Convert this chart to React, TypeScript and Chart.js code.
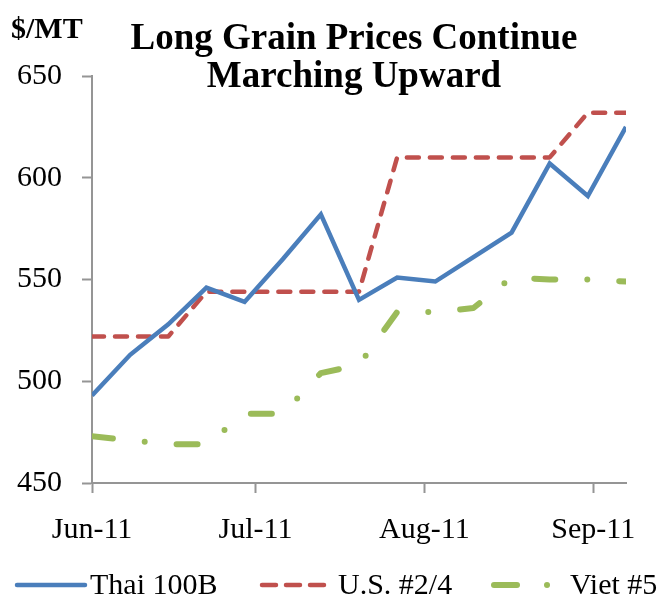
import React, { useEffect, useRef } from 'react';
import { Chart, registerables } from 'chart.js';

Chart.register(...registerables);

// ---- data ----
const weekDates = [
  '2011-06-01', '2011-06-08', '2011-06-15', '2011-06-22', '2011-06-29',
  '2011-07-06', '2011-07-13', '2011-07-20', '2011-07-27', '2011-08-03',
  '2011-08-10', '2011-08-17', '2011-08-24', '2011-08-31', '2011-09-07',
];
const thai100B = [493, 513, 528, 546, 539, 560, 582, 540, 551, 549, 561, 573, 607, 591, 625];
const us24 = [522, 522, 522, 544, 544, 544, 544, 544, 610, 610, 610, 610, 610, 632, 632];
const viet5 = [473, 471, 469, 469, 484, 484, 504, 508, 534, 534, 536, 551, 550, 550, 549];
const monthTickDates = ['2011-06-01', '2011-07-01', '2011-08-01', '2011-09-01'];
const monthTickLabels = ['Jun-11', 'Jul-11', 'Aug-11', 'Sep-11'];
const yTicks = [450, 500, 550, 600, 650];
const seriesNames = ['Thai 100B', 'U.S. #2/4', 'Viet #5'];
const titleLines = ['Long Grain Prices Continue', 'Marching Upward'];
const unitLabel = '$/MT';
const axisEndDate = '2011-09-07';

const DAY = 86400000;
const dayOf = (s: string) => (Date.parse(s) - Date.parse(weekDates[0])) / DAY;

const FONT = '"Liberation Serif", "Times New Roman", serif';
const C_THAI = '#4A7EBB';
const C_US = '#C0504D';
const C_VIET = '#9BBB59';
const AXIS = '#959595';

const overlayPlugin = {
  id: 'overlay',
  afterDraw(chart: any) {
    const ctx = chart.ctx;
    ctx.save();
    // unit label
    ctx.fillStyle = '#000';
    ctx.textAlign = 'left';
    ctx.textBaseline = 'alphabetic';
    ctx.font = `bold 30px ${FONT}`;
    ctx.fillText(unitLabel, 11, 38);
    // title
    ctx.textAlign = 'center';
    ctx.font = `bold 37px ${FONT}`;
    ctx.fillText(titleLines[0], 354, 49);
    ctx.fillText(titleLines[1], 354, 87);

    // legend
    const ly = 585;
    ctx.lineCap = 'round';
    // Thai
    ctx.strokeStyle = C_THAI;
    ctx.lineWidth = 4.5;
    ctx.setLineDash([]);
    ctx.beginPath();
    ctx.moveTo(17, ly);
    ctx.lineTo(85, ly);
    ctx.stroke();
    // US
    ctx.strokeStyle = C_US;
    ctx.setLineDash([14, 10]);
    ctx.beginPath();
    ctx.moveTo(262, ly);
    ctx.lineTo(324, ly);
    ctx.stroke();
    // Viet
    ctx.setLineDash([]);
    ctx.strokeStyle = C_VIET;
    ctx.lineWidth = 6;
    ctx.beginPath();
    ctx.moveTo(494, ly);
    ctx.lineTo(517, ly);
    ctx.stroke();
    ctx.fillStyle = C_VIET;
    ctx.beginPath();
    ctx.arc(547, ly, 3, 0, Math.PI * 2);
    ctx.fill();

    ctx.fillStyle = '#000';
    ctx.textAlign = 'left';
    ctx.font = `30px ${FONT}`;
    ctx.fillText(seriesNames[0], 90, 594);
    ctx.fillText(seriesNames[1], 338, 594);
    ctx.fillText(seriesNames[2], 570, 594);
    ctx.restore();
  },
};

export default function App() {
  const ref = useRef<HTMLCanvasElement | null>(null);

  useEffect(() => {
    document.body.style.margin = '0';
    const canvas = ref.current;
    if (!canvas) return;
    const xs = weekDates.map(dayOf);
    const toPts = (arr: number[]) => arr.map((v, i) => ({ x: xs[i], y: v }));
    const tickDays = monthTickDates.map(dayOf);

    const chart = new Chart(canvas, {
      type: 'line',
      data: {
        datasets: [
          {
            label: seriesNames[0],
            data: toPts(thai100B),
            borderColor: C_THAI,
            backgroundColor: C_THAI,
            borderWidth: 4.5,
            pointRadius: 0,
            tension: 0,
            borderJoinStyle: 'miter',
          },
          {
            label: seriesNames[1],
            data: toPts(us24),
            borderColor: C_US,
            backgroundColor: C_US,
            borderWidth: 4.5,
            borderDash: [12, 11],
            borderCapStyle: 'round',
            borderJoinStyle: 'round',
            pointRadius: 0,
            tension: 0,
          },
          {
            label: seriesNames[2],
            data: toPts(viet5),
            borderColor: C_VIET,
            backgroundColor: C_VIET,
            borderWidth: 6,
            borderDash: [21, 32, 0, 32],
            borderCapStyle: 'round',
            borderJoinStyle: 'round',
            pointRadius: 0,
            tension: 0,
          },
        ],
      },
      options: {
        responsive: false,
        animation: false,
        events: [],
        layout: { padding: { top: 76, right: 37, bottom: 45, left: 0 } },
        plugins: {
          legend: { display: false },
          title: { display: false },
          tooltip: { enabled: false },
        },
        scales: {
          x: {
            type: 'linear',
            min: 0,
            max: dayOf(axisEndDate),
            afterBuildTicks: (scale: any) => {
              scale.ticks = tickDays.map((v) => ({ value: v }));
            },
            afterFit: (scale: any) => {
              scale.height = 70;
            },
            ticks: {
              autoSkip: false,
              maxRotation: 0,
              padding: 19,
              color: '#000',
              font: { family: FONT, size: 30 },
              callback: (v: any) => {
                const i = tickDays.indexOf(Number(v));
                return i >= 0 ? monthTickLabels[i] : '';
              },
            },
            grid: {
              drawOnChartArea: false,
              drawTicks: true,
              tickLength: 10,
              tickColor: AXIS,
              tickWidth: 2,
              color: AXIS,
            },
            border: { display: true, color: AXIS, width: 2 },
          },
          y: {
            type: 'linear',
            min: yTicks[0],
            max: yTicks[yTicks.length - 1],
            afterBuildTicks: (scale: any) => {
              scale.ticks = yTicks.map((v) => ({ value: v }));
            },
            afterFit: (scale: any) => {
              scale.width = 92;
            },
            ticks: {
              padding: 20,
              color: '#000',
              font: { family: FONT, size: 30 },
            },
            grid: {
              drawOnChartArea: false,
              drawTicks: true,
              tickLength: 10,
              tickColor: AXIS,
              tickWidth: 2,
              color: AXIS,
            },
            border: { display: true, color: AXIS, width: 2 },
          },
        },
      },
      plugins: [overlayPlugin],
    } as any);

    return () => chart.destroy();
  }, []);

  return (
    <div style={{ width: 663, height: 598, background: '#fff' }}>
      <canvas ref={ref} width={663} height={598} style={{ display: 'block' }} />
    </div>
  );
}
